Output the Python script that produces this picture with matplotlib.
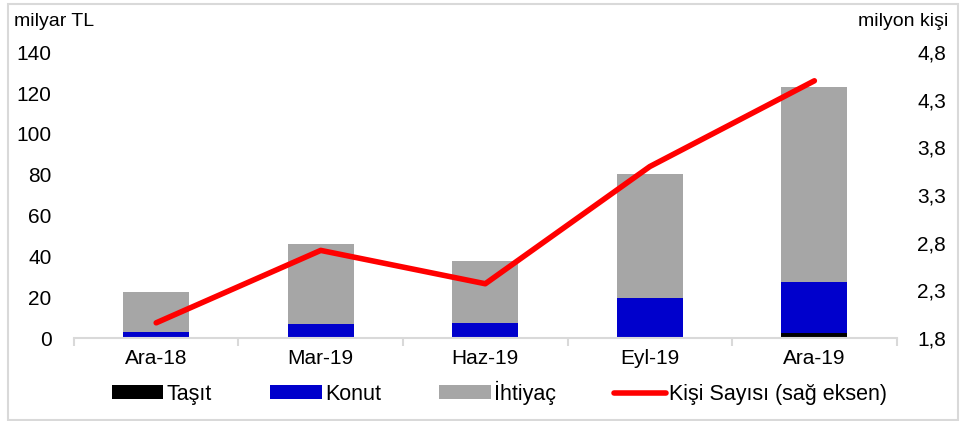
import matplotlib.pyplot as plt
import numpy as np
from matplotlib.patches import Rectangle

plt.rcParams['font.family'] = ['Liberation Sans', 'DejaVu Sans']

donemler = ['Ara-18', 'Mar-19', 'Haz-19', 'Eyl-19', 'Ara-19']
tasit = [0.4, 0.5, 0.3, 0.3, 2.4]
konut = [2.6, 6.4, 7.2, 19.1, 25.0]
ihtiyac = [19.5, 39.1, 30.2, 60.9, 95.5]
kisi = [1.96, 2.72, 2.37, 3.60, 4.50]

fig = plt.figure(figsize=(9.6, 4.21), dpi=100)
ax = fig.add_axes([0.077, 0.197, 0.857, 0.679])
x = np.arange(len(donemler))
w = 0.4

tasit = np.array(tasit)
konut = np.array(konut)
ihtiyac = np.array(ihtiyac)
ax.bar(x, tasit, w, color='black', label='Taşıt', zorder=2)
ax.bar(x, konut, w, bottom=tasit, color='#0000CC', label='Konut', zorder=2)
ax.bar(x, ihtiyac, w, bottom=tasit + konut, color='#A6A6A6', label='İhtiyaç', zorder=2)

ax.set_xlim(-0.5, len(donemler) - 0.5)
ax.set_ylim(0, 140)
ax.set_yticks(range(0, 141, 20))
ax.set_xticks(x)
ax.set_xticklabels(donemler)
ax.set_xticks(np.arange(-0.5, len(donemler), 1), minor=True)
ax.tick_params(axis='x', which='major', length=0, labelsize=15, pad=8)
ax.tick_params(axis='x', which='minor', length=6, color='#D9D9D9', width=1.5)
ax.tick_params(axis='y', length=0, labelsize=15, pad=16)
for s in ['top', 'left', 'right']:
    ax.spines[s].set_visible(False)
ax.spines['bottom'].set_color('#D9D9D9')
ax.spines['bottom'].set_linewidth(1.5)

ax2 = ax.twinx()
ax2.plot(x, kisi, color='red', lw=4, solid_capstyle='round', label='Kişi Sayısı (sağ eksen)', zorder=3)
ax2.set_ylim(1.8, 4.8)
ax2.set_yticks([1.8, 2.3, 2.8, 3.3, 3.8, 4.3, 4.8])
ax2.set_yticklabels(['1,8', '2,3', '2,8', '3,3', '3,8', '4,3', '4,8'])
ax2.tick_params(axis='y', length=0, labelsize=15, pad=15)
for s in ['top', 'left', 'right', 'bottom']:
    ax2.spines[s].set_visible(False)

fig.text(0.015, 0.948, 'milyar TL', fontsize=14, va='center')
fig.text(0.988, 0.948, 'milyon kişi', fontsize=14, va='center', ha='right')

h1, l1 = ax.get_legend_handles_labels()
h2, l2 = ax2.get_legend_handles_labels()
fig.legend(h1 + h2, l1 + l2, loc='center', bbox_to_anchor=(0.52, 0.067), ncol=4,
           frameon=False, fontsize=15.5, handlelength=2.4, handleheight=0.6,
           columnspacing=2.7, handletextpad=0.15)

fig.patches.append(Rectangle((0.008, 0.002), 0.99, 0.988, transform=fig.transFigure,
                             fill=False, edgecolor='#D9D9D9', lw=1.5))

fig.savefig('out.png', dpi=100)
